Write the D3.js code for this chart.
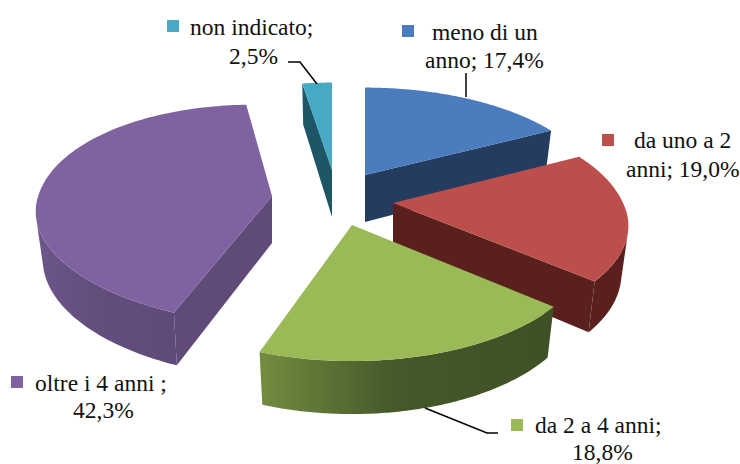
<!DOCTYPE html>
<html>
<head>
<meta charset="utf-8">
<script src="https://cdn.jsdelivr.net/npm/d3@7"></script>
<style>
body { margin: 0; background: #fff; }
text { font-family: "Liberation Serif", serif; font-size: 23.5px; fill: #111; }
</style>
</head>
<body>
<script>
var w = 740;
var h = 464;

// data, clockwise from twelve o'clock
var values = [17.4, 19.0, 18.8, 42.3, 2.5];
var lineOne = ["meno di un", "da uno a 2", "da 2 a 4 anni;", "oltre i 4 anni ;", "non indicato;"];
var linePrefix = ["anno; ", "anni; ", "", "", ""];

// colours
var topColor = ["#4b7cbe", "#bc4f4c", "#9ab957", "#7f63a1", "#46aac4"];
var wallFrom = ["#233c5f", "#5a201d", "#3e5025", "#5f4a78", "#1f5666"];
var wallMid = ["#233c5f", "#5a201d", "#45592a", "#624d7c", "#1f5666"];
var wallTo = ["#233c5f", "#5a201d", "#728d40", "#6d5689", "#1f5666"];

// how far each slice is pulled out of the pie
var pullX = [33, 61, 20, -60, 0];
var pullY = [-24, 4, 26, -3, -29];
// slices are not quite the same shape in the original
var tilt = [0, 0, 0, 2.5, 0];
var squashFront = [1, 0.93, 0.97, 0.92, 1];
var squashBack = [0.96, 1, 1, 1, 0.96];

// label layout
var swatch = [[402, 25], [602, 134], [511, 419], [11, 376], [167, 20]];
var lineOnePos = [[432, 40], [634, 148], [535, 433], [35, 391], [190, 35]];
var lineTwoPos = [[425, 68], [626, 177], [572, 460], [73, 418], [229, 64]];
var leaders = [
  [[466, 73], [466, 97]],
  [[425, 408], [487, 433], [498, 433]],
  [[288, 62], [300, 62], [317, 84]]
];

// perspective of the pie disc
var cx = 332, cy = 199;
var dist = 4.7, focalX = 1081, focalY = 519;

var svg = d3.select("body").append("svg")
  .attr("width", w)
  .attr("height", h);

var pie = d3.pie().sort(null).value(function(d) { return d; });
var slices = pie(values);

var line = d3.line();
var pct = d3.formatLocale({ decimal: ",", thousands: ".", grouping: [3], currency: ["", ""] }).format(".1f");

function rim(i, a) {
  var k = dist + Math.cos(a);
  var x = focalX * Math.sin(a) / k;
  var y = -focalY * Math.cos(a) / k;
  var t = tilt[i] * Math.PI / 180;
  var rx = x * Math.cos(t) - y * Math.sin(t);
  var ry = x * Math.sin(t) + y * Math.cos(t);
  ry = ry * (ry > 0 ? squashFront[i] : squashBack[i]);
  return [cx + pullX[i] + rx, cy + pullY[i] + ry];
}
// same rim point on the lower face of the slab
function rimLow(i, a) {
  var p = rim(i, a);
  var ax = cx + pullX[i];
  return [ax + (p[0] - ax) * 0.97, p[1] + 47 - 6 * Math.cos(a)];
}
function apex(i) { return [cx + pullX[i], cy + pullY[i]]; }
function apexLow(i) { return [cx + pullX[i], cy + pullY[i] + 47]; }

var defs = svg.append("defs");

// back slices first
var order = [4, 0, 3, 1, 2];

order.forEach(function(i) {
  var s = slices[i];
  var g = svg.append("g");
  var angles = d3.range(0, 121).map(function(t) {
    return s.startAngle + (s.endAngle - s.startAngle) * t / 120;
  });

  // flat walls along the two cut edges
  var cutFrom = [apex(i), rim(i, s.startAngle), rimLow(i, s.startAngle), apexLow(i)];
  var cutTo = [apex(i), rim(i, s.endAngle), rimLow(i, s.endAngle), apexLow(i)];
  if (d3.polygonArea(cutFrom) > 0) {
    g.append("path").attr("d", line(cutFrom) + "Z").attr("fill", wallFrom[i]);
  }
  if (d3.polygonArea(cutTo) < 0) {
    g.append("path").attr("d", line(cutTo) + "Z").attr("fill", wallFrom[i]);
  }

  // curved outer wall, only the part that faces the viewer
  var front = angles.filter(function(a, j) {
    var prev = angles[Math.max(j - 1, 0)];
    var next = angles[Math.min(j + 1, angles.length - 1)];
    return d3.polygonArea([rim(i, prev), rim(i, next), rimLow(i, next), rimLow(i, prev)]) > 0;
  });
  if (front.length) {
    var id = "wall" + i;
    var grad = defs.append("linearGradient").attr("id", id)
      .attr("x1", 1).attr("x2", 0).attr("y1", 0).attr("y2", 0);
    grad.selectAll("stop")
      .data([[0, wallFrom[i]], [0.55, wallMid[i]], [1, wallTo[i]]])
      .join("stop")
      .attr("offset", function(d) { return d[0]; })
      .attr("stop-color", function(d) { return d[1]; });
    var outline = front.map(function(a) { return rim(i, a); })
      .concat(front.slice().reverse().map(function(a) { return rimLow(i, a); }));
    g.append("path")
      .attr("d", line(outline) + "Z")
      .attr("fill", "url(#" + id + ")");
  }

  // top face
  var face = [apex(i)].concat(angles.map(function(a) { return rim(i, a); }));
  g.append("path")
    .attr("d", line(face) + "Z")
    .attr("fill", topColor[i]);
});

// leader lines
svg.selectAll(".leader")
  .data(leaders)
  .join("path")
  .attr("class", "leader")
  .attr("d", function(d) { return line(d); })
  .attr("fill", "none")
  .attr("stroke", "#000")
  .attr("stroke-width", 1.5);

// labels
svg.selectAll(".swatch")
  .data(values)
  .join("rect")
  .attr("class", "swatch")
  .attr("x", function(d, i) { return swatch[i][0]; })
  .attr("y", function(d, i) { return swatch[i][1]; })
  .attr("width", 12)
  .attr("height", 12)
  .attr("fill", function(d, i) { return topColor[i]; });

svg.selectAll(".one")
  .data(lineOne)
  .join("text")
  .attr("class", "one")
  .attr("x", function(d, i) { return lineOnePos[i][0]; })
  .attr("y", function(d, i) { return lineOnePos[i][1]; })
  .text(function(d) { return d; });

svg.selectAll(".two")
  .data(values)
  .join("text")
  .attr("class", "two")
  .attr("x", function(d, i) { return lineTwoPos[i][0]; })
  .attr("y", function(d, i) { return lineTwoPos[i][1]; })
  .text(function(d, i) { return linePrefix[i] + pct(d) + "%"; });
</script>
</body>
</html>
